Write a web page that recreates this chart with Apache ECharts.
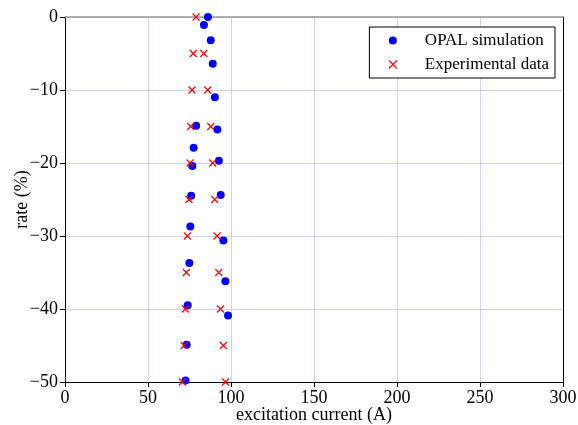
<!DOCTYPE html>
<html>
<head>
<meta charset="utf-8">
<script src="https://cdn.jsdelivr.net/npm/echarts@6/dist/echarts.min.js"></script>
<style>
html, body { margin: 0; padding: 0; background: #fff; }
#chart { width: 578px; height: 425px; }
</style>
</head>
<body>
<div id="chart"></div>
<script>
// OPAL simulation: [current (A), rate (%)]
const opalSim = [
    [86.1, 0], [83.7, -1.1], [87.8, -3.2], [89.0, -6.4], [90.3, -11.0],
    [79.0, -14.9], [91.8, -15.4], [77.5, -17.9], [92.7, -19.7], [76.7, -20.4],
    [93.8, -24.4], [76.0, -24.5], [75.5, -28.7], [95.4, -30.6], [74.9, -33.7],
    [96.6, -36.2], [73.9, -39.5], [98.2, -40.9], [73.3, -44.9], [72.6, -49.8]
]
// Experimental data
const expData = [
    [79.0, 0],
    [77.3, -5], [83.6, -5],
    [76.5, -10], [86.0, -10],
    [75.7, -15], [87.8, -15],
    [75.3, -20], [89.0, -20],
    [74.7, -25], [90.2, -25],
    [73.7, -30], [91.6, -30],
    [73.1, -35], [92.6, -35],
    [72.5, -40], [93.7, -40],
    [71.8, -45], [95.4, -45],
    [70.7, -50], [96.7, -50]
]
const xTicks = [0, 50, 100, 150, 200, 250, 300]
const yTicks = [0, -10, -20, -30, -40, -50]

const serif = 'Liberation Serif'
const minus = v => (v < 0 ? '\u2212' + (-v) : String(v))
const crossPath = 'path://M0,0L10,10M10,0L0,10'
const crossStyle = { color: 'none', borderColor: '#ff0000', borderWidth: 1.2, opacity: 1 }

const chart = echarts.init(document.getElementById('chart'))
chart.setOption({
    animation: false,
    textStyle: { fontFamily: serif },
    grid: { left: 65, right: 15, top: 17, bottom: 43, containLabel: false, outerBoundsMode: 'none' },
    legend: {
        right: 23,
        top: 27,
        orient: 'vertical',
        backgroundColor: '#fff',
        borderColor: '#000',
        borderWidth: 1,
        borderRadius: 0,
        padding: [5, 6, 5, 17],
        itemGap: 7,
        itemWidth: 8,
        itemHeight: 8,
        textStyle: { fontFamily: serif, fontSize: 17, color: '#000', padding: [0, 0, 0, 23] },
        data: [
            { name: 'OPAL simulation', icon: 'circle' },
            { name: 'Experimental data', icon: crossPath, itemStyle: crossStyle }
        ]
    },
    xAxis: [
        {
            type: 'value',
            min: xTicks[0],
            max: xTicks[xTicks.length - 1],
            interval: 50,
            name: 'excitation current (A)',
            nameLocation: 'middle',
            nameGap: 24,
            nameMoveOverlap: false,
            nameTextStyle: { fontFamily: serif, fontSize: 18, color: '#000' },
            axisLine: { onZero: false, lineStyle: { color: '#000', width: 1 } },
            axisTick: { show: true, length: 5, lineStyle: { color: '#000' } },
            axisLabel: { fontFamily: serif, fontSize: 18, color: '#000', margin: 7 },
            splitLine: { show: true, lineStyle: { color: '#d0d0f8', width: 1 } }
        },
        {
            type: 'value',
            position: 'top',
            min: 0,
            max: 300,
            axisLine: { show: true, onZero: false, lineStyle: { color: '#999', width: 1.5 } },
            axisTick: { show: false },
            axisLabel: { show: false },
            splitLine: { show: false }
        }
    ],
    yAxis: [
        {
            type: 'value',
            min: yTicks[yTicks.length - 1],
            max: yTicks[0],
            interval: 10,
            name: 'rate (%)',
            nameLocation: 'middle',
            nameGap: 34,
            nameMoveOverlap: false,
            nameRotate: 90,
            nameTextStyle: { fontFamily: serif, fontSize: 18, color: '#000' },
            axisLine: { onZero: false, lineStyle: { color: '#000', width: 1 } },
            axisTick: { show: true, length: 5, lineStyle: { color: '#000' } },
            axisLabel: { fontFamily: serif, fontSize: 18, color: '#000', margin: 7, formatter: minus },
            splitLine: { show: true, lineStyle: { color: '#d0d0f8', width: 1 } }
        },
        {
            type: 'value',
            position: 'right',
            min: -50,
            max: 0,
            axisLine: { show: true, onZero: false, lineStyle: { color: '#000', width: 1 } },
            axisTick: { show: false },
            axisLabel: { show: false },
            splitLine: { show: false }
        }
    ],
    series: [
        {
            name: 'OPAL simulation',
            type: 'scatter',
            symbol: 'circle',
            symbolSize: 8,
            itemStyle: { color: '#0000ff', opacity: 1 },
            data: opalSim
        },
        {
            name: 'Experimental data',
            type: 'scatter',
            symbol: crossPath,
            symbolSize: 7,
            itemStyle: crossStyle,
            data: expData
        }
    ]
})
</script>
</body>
</html>
